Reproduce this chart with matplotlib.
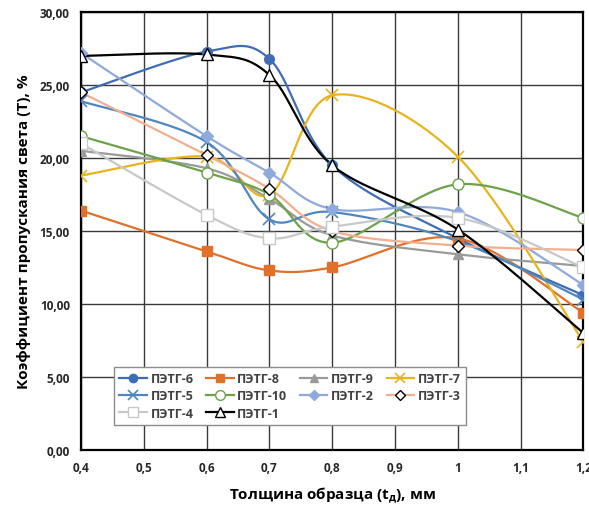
import numpy as np
import matplotlib
matplotlib.use("Agg")
import matplotlib.pyplot as plt
from matplotlib.ticker import FixedLocator, FixedFormatter

plt.rcParams['font.family'] = ['Open Sans', 'DejaVu Sans']
plt.rcParams['mathtext.fontset'] = 'custom'
plt.rcParams['mathtext.bf'] = 'Open Sans:bold'
plt.rcParams['mathtext.rm'] = 'Open Sans:bold'

thickness = [0.4, 0.6, 0.7, 0.8, 1.0, 1.2]

petg6 = [24.5, 27.3, 26.8, 19.5, 14.5, 10.6]
petg8 = [16.4, 13.6, 12.3, 12.5, 14.5, 9.4]
petg9 = [20.5, 19.3, 17.2, 14.7, 13.4, 12.6]
petg7 = [18.8, 20.1, 17.5, 24.3, 20.1, 7.4]
petg5 = [23.9, 21.1, 15.8, 16.3, 14.3, 10.3]
petg10 = [21.5, 19.0, 17.5, 14.2, 18.2, 15.9]
petg2 = [27.2, 21.5, 19.0, 16.5, 16.3, 11.3]
petg3 = [24.5, 20.2, 17.9, 15.0, 14.0, 13.7]
petg4 = [21.0, 16.1, 14.5, 15.3, 15.9, 12.5]
petg1 = [27.0, 27.1, 25.7, 19.5, 15.1, 8.0]

x_ticks = [0.4, 0.5, 0.6, 0.7, 0.8, 0.9, 1.0, 1.1, 1.2]
x_tick_labels = ['0,4', '0,5', '0,6', '0,7', '0,8', '0,9', '1', '1,1', '1,2']
y_ticks = [0, 5, 10, 15, 20, 25, 30]
y_tick_labels = ['0,00', '5,00', '10,00', '15,00', '20,00', '25,00', '30,00']

series = [
    ('ПЭТГ-6', petg6, dict(color='#3F6DB5', marker='o', ms=7, mfc='#3F6DB5', mec='#3F6DB5')),
    ('ПЭТГ-8', petg8, dict(color='#E0702A', marker='s', ms=7, mfc='#E0702A', mec='#E0702A')),
    ('ПЭТГ-9', petg9, dict(color='#9A9A9A', marker='^', ms=7, mfc='#9A9A9A', mec='#9A9A9A')),
    ('ПЭТГ-7', petg7, dict(color='#E8B41E', marker='x', ms=8, mfc='none', mec='#E8B41E', mew=1.2)),
    ('ПЭТГ-5', petg5, dict(color='#4F86C0', marker='x', ms=8, mfc='none', mec='#4F86C0', mew=1.2)),
    ('ПЭТГ-10', petg10, dict(color='#6DA24A', marker='o', ms=8, mfc='white', mec='#6DA24A')),
    ('ПЭТГ-2', petg2, dict(color='#8EA9DB', marker='D', ms=6, mfc='#8EA9DB', mec='#8EA9DB')),
    ('ПЭТГ-3', petg3, dict(color='#F2AE8E', marker='D', ms=6, mfc='white', mec='black')),
    ('ПЭТГ-4', petg4, dict(color='#C8C8C8', marker='s', ms=8, mfc='white', mec='#C8C8C8')),
    ('ПЭТГ-1', petg1, dict(color='black', marker='^', ms=8, mfc='white', mec='black')),
]

fig = plt.figure(figsize=(5.89, 5.06), dpi=100)
ax = fig.add_axes([0.1375, 0.109, 0.853, 0.865])
ax.set_xlim(0.4, 1.2)
ax.set_ylim(0, 30)

# pixel-per-unit scales used for Excel-style smoothing
sx = 502 / 0.8
sy = 438 / 30.0


def smooth(xs, ys, n=40):
    px = np.array(xs) * sx
    py = np.array(ys) * sy
    pts = np.column_stack([px, py])
    out = [pts[0]]
    m = len(pts)
    for i in range(m - 1):
        p0 = pts[i - 1] if i > 0 else pts[i]
        p1 = pts[i]
        p2 = pts[i + 1]
        p3 = pts[i + 2] if i + 2 < m else pts[i + 1]
        c1 = p1 + (p2 - p0) / 6.0
        c2 = p2 - (p3 - p1) / 6.0
        t = np.linspace(0, 1, n)[1:, None]
        seg = ((1 - t) ** 3) * p1 + 3 * ((1 - t) ** 2) * t * c1 + 3 * (1 - t) * t ** 2 * c2 + t ** 3 * p2
        out.extend(seg)
    out = np.array(out)
    return out[:, 0] / sx, out[:, 1] / sy


handles = {}
for name, vals, st in series:
    cx, cy = smooth(thickness, vals)
    ax.plot(cx, cy, color=st['color'], lw=1.6, zorder=3)
    ax.plot(thickness, vals, ls='none', marker=st['marker'], ms=st['ms'],
            mfc=st['mfc'], mec=st['mec'], mew=st.get('mew', 1.0), zorder=4)
    h, = ax.plot([], [], color=st['color'], lw=1.6, marker=st['marker'],
                 ms=st['ms'] - 1, mfc=st['mfc'], mec=st['mec'], mew=st.get('mew', 1.0))
    handles[name] = h

ax.xaxis.set_major_locator(FixedLocator(x_ticks))
ax.xaxis.set_major_formatter(FixedFormatter(x_tick_labels))
ax.yaxis.set_major_locator(FixedLocator(y_ticks))
ax.yaxis.set_major_formatter(FixedFormatter(y_tick_labels))
ax.tick_params(length=0, pad=8, labelsize=8.5)
for lab in ax.get_xticklabels() + ax.get_yticklabels():
    lab.set_fontweight('bold')
    lab.set_color('#262626')

ax.grid(True, color='#3a3a3a', lw=1.0, zorder=0)
for sp in ax.spines.values():
    sp.set_color('black')
    sp.set_linewidth(1.6)

ax.set_xlabel('Толщина образца (t$_{\\mathbf{д}}$), мм', fontsize=11, fontweight='bold', labelpad=8)
ax.set_ylabel('Коэффициент пропускания света (Т), %', fontsize=11, fontweight='bold', labelpad=6)

# legend reads row by row; matplotlib fills column by column
legend_order = ['ПЭТГ-6', 'ПЭТГ-5', 'ПЭТГ-4', 'ПЭТГ-8', 'ПЭТГ-10', 'ПЭТГ-1',
                'ПЭТГ-9', 'ПЭТГ-2', 'ПЭТГ-7', 'ПЭТГ-3']
leg = ax.legend([handles[n] for n in legend_order], legend_order, ncol=4,
                loc='lower left', bbox_to_anchor=(0.054, 0.043),
                prop={'weight': 'bold', 'size': 9}, frameon=True, fancybox=False,
                handlelength=2.2, handletextpad=0.3, columnspacing=1.0,
                labelspacing=0.35, borderpad=0.4, labelcolor='#404040')
leg.get_frame().set_edgecolor('#8c8c8c')
leg.get_frame().set_linewidth(1.0)
leg.get_frame().set_alpha(1.0)
leg.set_zorder(5)

fig.savefig('out.png', dpi=100)
